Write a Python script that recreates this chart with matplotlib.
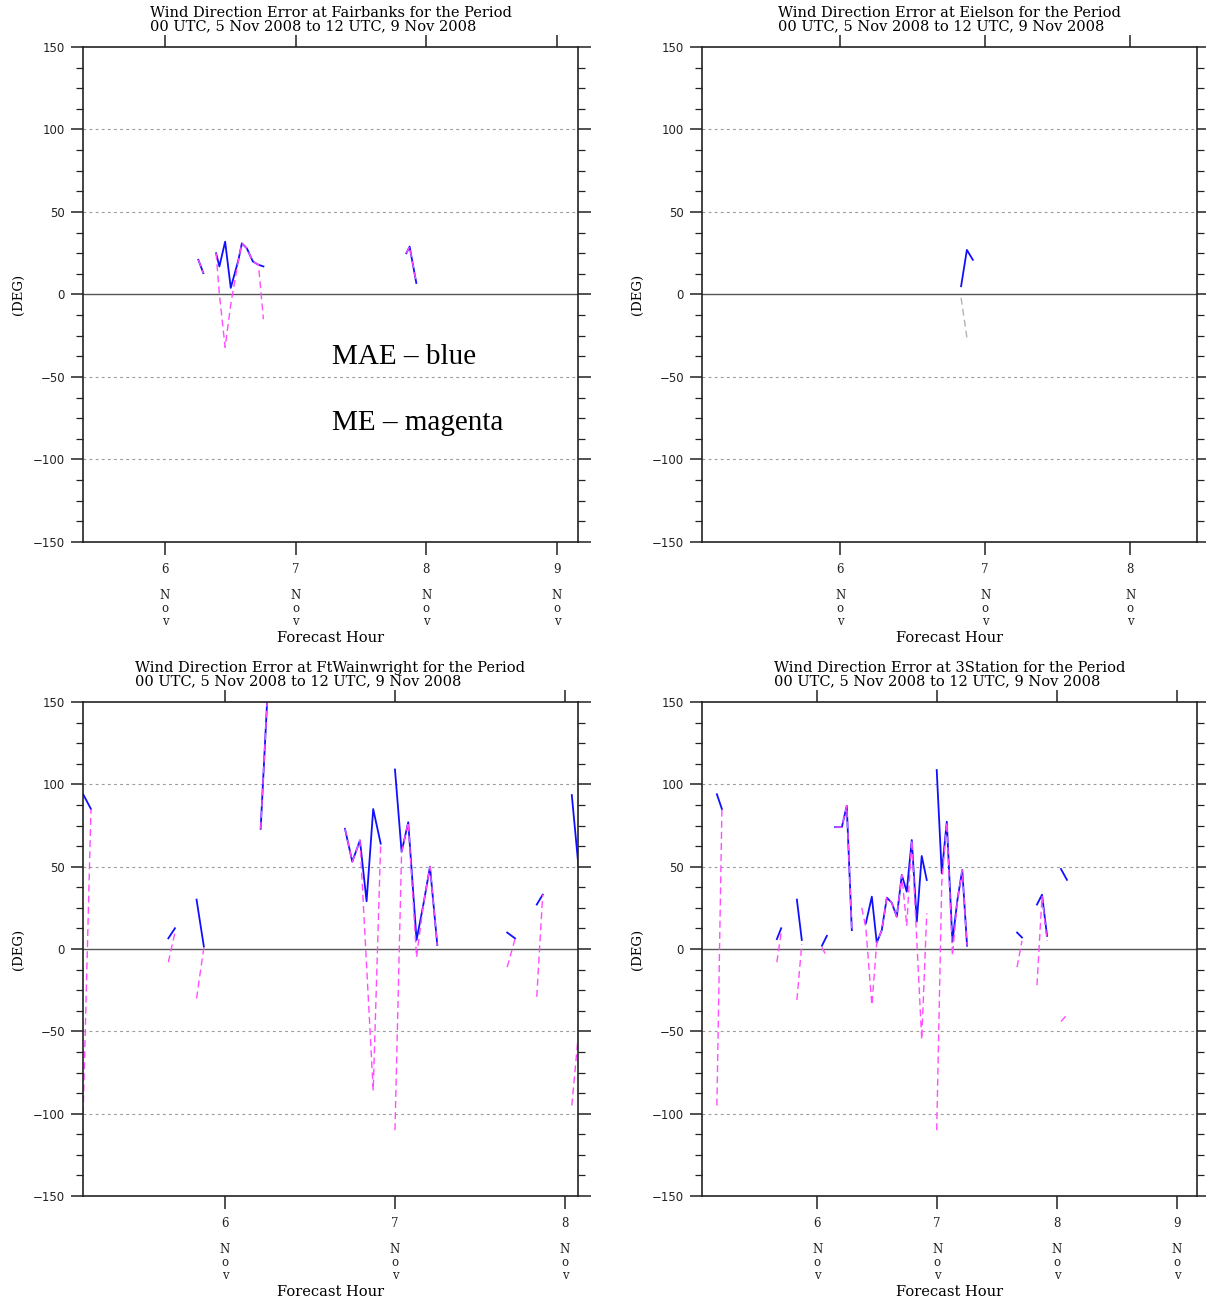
import numpy as np
import matplotlib
matplotlib.use('Agg')
import matplotlib.pyplot as plt
from matplotlib.ticker import MultipleLocator

nan = np.nan

PERIOD = '00 UTC, 5 Nov 2008 to 12 UTC, 9 Nov 2008'
BLUE = '#1010ff'
MAGENTA = '#ff4dff'

# x values are days of November, NaN breaks the line where data is missing

# Fairbanks
fbk_day = [6.255, 6.293, nan, 6.391, 6.416, 6.46, 6.503, 6.562, 6.588, 6.626, 6.672, 6.715, 6.753,
           nan, 7.847, 7.872, 7.923]
fbk_mae = [21, 13, nan, 25, 17, 32, 4, 21, 31, 28, 20, 18, 17, nan, 25, 29, 7]
fbk_me = [21, 13, nan, 25, 0, -32, -6, 21, 31, 28, 20, 18, -15, nan, 25, 29, 7]

# Eielson
eil_day = [6.834, 6.874, 6.915]
eil_mae = [5, 27, 21]
eil_me = [-2, -26, nan]

# FtWainwright
ftw_day = [5.166, 5.212, nan, 5.667, 5.706, nan, 5.833, 5.876, nan, 6.21, 6.249, nan,
           6.706, 6.749, 6.794, 6.833, 6.872, 6.916, nan,
           7.0, 7.039, 7.078, 7.127, 7.167, 7.206, 7.249, nan,
           7.66, 7.706, nan, 7.834, 7.869, nan, 8.04, 8.085]
ftw_mae = [94, 85, nan, 6.5, 12.6, nan, 30, 1.5, nan, 73, 152, nan,
           73, 53, 66, 29, 85, 64, nan,
           109, 59, 77, 5.5, 27, 50, 2.4, nan,
           10, 6.5, nan, 27, 33, nan, 93.5, 44]
ftw_me = [-100, 85, nan, -8, 10, nan, -30, 1, nan, 73, 152, nan,
          73, 53, 66, -10, -86, 64, nan,
          -110, 59, 77, -5, 27, 50, 2, nan,
          -11, 6, nan, -29, 33, nan, -95, -45]

# 3Station
sta_day = [5.164, 5.206, nan, 5.664, 5.7, nan, 5.831, 5.872, nan, 6.04, 6.081, nan,
           6.15, 6.206, 6.247, 6.289, nan,
           6.372, 6.406, 6.456, 6.497, 6.539, 6.581, 6.622, 6.664, 6.706, 6.747, 6.789, 6.831, 6.872, 6.914, nan,
           6.997, 7.039, 7.081, 7.128, 7.17, 7.21, 7.25, nan,
           7.667, 7.708, nan, 7.833, 7.875, 7.917, nan, 8.033, 8.083]
sta_mae = [94, 85, nan, 6, 12.6, nan, 30, 5.5, nan, 2, 8, nan,
           74, 74, 87, 11.5, nan,
           nan, 15.6, 31.8, 3.8, 11.5, 31.2, 28.1, 19.6, 45, 34.8, 66.2, 16.6, 56.5, 41.9, nan,
           108.7, 46, 77.3, 4.4, 30, 48, 2, nan,
           10, 7, nan, 27, 33, 8, nan, 48.6, 42]
sta_me = [-95, 85, nan, -8, 10, nan, -31, 3, nan, 1, -5, nan,
          74, 74, 87, 11.5, nan,
          25, 13, -34, 3.8, 11.5, 31.2, 28.1, 19.6, 45, 14, 66.2, 5, -55, 21.7, nan,
          -110, 40, 77, -4, 30, 48, 2, nan,
          -11, 5, nan, -22, 32, 5, nan, -44, -40]


def draw_panel(ax, station, day, mae, me, xlim, days, me_color=MAGENTA):
    for lvl in (-100, -50, 50, 100):
        ax.axhline(lvl, color='#9a9a9a', lw=0.8, dashes=(2.5, 3))
    ax.axhline(0, color='#555555', lw=1.0)
    ax.plot(day, mae, color=BLUE, lw=1.3)
    ax.plot(day, me, color=me_color, lw=1.0, dashes=(5, 3))

    ax.set_xlim(*xlim)
    ax.set_ylim(-150, 150)
    ax.set_xticks(days)
    ax.set_xticklabels(['{}\n\nN\no\nv'.format(d) for d in days],
                       fontsize=8.5, family='DejaVu Serif', linespacing=1.0)
    ax.set_yticks([-150, -100, -50, 0, 50, 100, 150])
    ax.yaxis.set_minor_locator(MultipleLocator(12.5))
    ax.tick_params(axis='both', which='both', direction='out', top=True, right=True,
                   colors='#222222', labelsize=8.5)
    ax.tick_params(axis='x', which='major', length=9, width=1.1, pad=6)
    ax.tick_params(axis='y', which='major', length=9, width=1.1, pad=4)
    ax.tick_params(axis='y', which='minor', length=5, width=0.9)
    for lab in ax.get_yticklabels():
        lab.set_family('DejaVu Sans')
    for sp in ax.spines.values():
        sp.set_linewidth(1.2)
        sp.set_color('#222222')

    ax.set_title('Wind Direction Error at {} for the Period\n{}'.format(station, PERIOD),
                 fontsize=10.5, family='DejaVu Serif', multialignment='left',
                 linespacing=0.95, pad=12)
    ax.set_xlabel('Forecast Hour', fontsize=10.5, family='DejaVu Serif', labelpad=2)
    ax.set_ylabel('(DEG)', fontsize=9.5, family='DejaVu Serif', labelpad=6)


fig = plt.figure(figsize=(12.06, 13.01), dpi=100)
fig.patch.set_facecolor('white')

ax_tl = fig.add_axes([0.0688, 0.5834, 0.4104, 0.3805])
ax_tr = fig.add_axes([0.5821, 0.5834, 0.4104, 0.3805])
ax_bl = fig.add_axes([0.0688, 0.0807, 0.4104, 0.3797])
ax_br = fig.add_axes([0.5821, 0.0807, 0.4104, 0.3797])

draw_panel(ax_tl, 'Fairbanks', fbk_day, fbk_mae, fbk_me, (5.372, 9.16), [6, 7, 8, 9])
draw_panel(ax_tr, 'Eielson', eil_day, eil_mae, eil_me, (5.048, 8.46), [6, 7, 8], me_color='#b8b0b8')
draw_panel(ax_bl, 'FtWainwright', ftw_day, ftw_mae, ftw_me, (5.165, 8.076), [6, 7, 8])
draw_panel(ax_br, '3Station', sta_day, sta_mae, sta_me, (5.04, 9.167), [6, 7, 8, 9])

ax_tl.text(0.503, 0.374, 'MAE \u2013 blue', transform=ax_tl.transAxes, fontsize=21,
           family='Liberation Serif', va='center', ha='left')
ax_tl.text(0.503, 0.240, 'ME \u2013 magenta', transform=ax_tl.transAxes, fontsize=21,
           family='Liberation Serif', va='center', ha='left')

fig.savefig('out.png', dpi=100, facecolor='white')
